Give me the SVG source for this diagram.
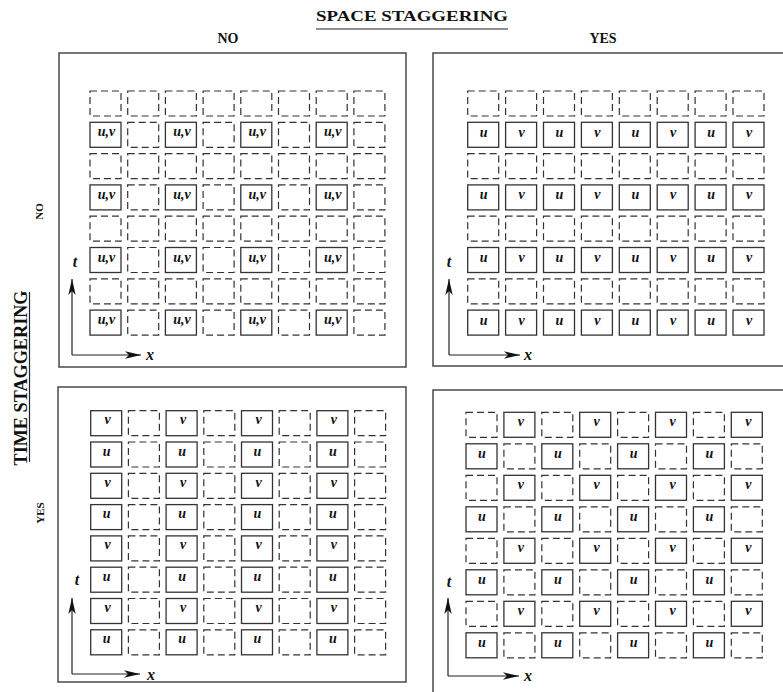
<svg xmlns="http://www.w3.org/2000/svg" xmlns:xlink="http://www.w3.org/1999/xlink" width="783" height="692" viewBox="0 0 783 692">
<style>
.frame{fill:none;stroke:#4a4a4a;stroke-width:1.5}
.s{fill:#fff;stroke:#333;stroke-width:1.3}
.d{fill:none;stroke:#333;stroke-width:1.2;stroke-dasharray:7 4}
.lb{font-family:"Liberation Serif","Times New Roman",serif;font-weight:bold;font-style:italic;font-size:14px;fill:#111;text-anchor:middle}
.ax{fill:none;stroke:#222;stroke-width:1.2}
.al{font-family:"Liberation Serif","Times New Roman",serif;font-weight:bold;font-style:italic;font-size:16px;fill:#111;text-anchor:middle}
.ti{font-family:"Liberation Serif","Times New Roman",serif;font-weight:bold;fill:#111;text-anchor:middle}
.ul{stroke:#222;stroke-width:1.2}
</style>
<defs>
<rect id="dc" class="d" width="31" height="25"/>
<marker id="ah" viewBox="0 0 16 8" markerWidth="16" markerHeight="8" refX="16" refY="4" orient="auto" markerUnits="userSpaceOnUse">
<path d="M0,0.3 L16,4 L0,7.7 L4,4 Z" fill="#111"/>
</marker>
</defs>

<g id="titles">
<text class="ti" x="412" y="21" font-size="15" textLength="192" lengthAdjust="spacingAndGlyphs">SPACE STAGGERING</text>
<line class="ul" x1="316" y1="29" x2="508" y2="29"/>
<text class="ti" x="228" y="42.5" font-size="14">NO</text>
<text class="ti" x="603" y="43" font-size="14">YES</text>
<text class="ti" transform="translate(27,378) rotate(-90)" font-size="19" textLength="175" lengthAdjust="spacingAndGlyphs">TIME STAGGERING</text>
<line class="ul" x1="29.5" y1="292" x2="29.5" y2="462"/>
<text class="ti" transform="translate(43,211.5) rotate(-90)" font-size="11">NO</text>
<text class="ti" transform="translate(44,513) rotate(-90)" font-size="11">YES</text>
</g>

<g id="frames">
<rect class="frame" x="59" y="53" width="347" height="314"/>
<rect class="frame" x="433" y="53" width="360" height="313"/>
<rect class="frame" x="58" y="387" width="348" height="295"/>
<rect class="frame" x="433" y="390" width="360" height="320"/>
</g>

<!-- Top-left: no space, no time staggering -->
<g id="panel-tl" transform="translate(90,91)">
<use href="#dc" x="0" y="0"/><use href="#dc" x="37.7" y="0"/><use href="#dc" x="75.4" y="0"/><use href="#dc" x="113.1" y="0"/><use href="#dc" x="150.8" y="0"/><use href="#dc" x="188.5" y="0"/><use href="#dc" x="226.2" y="0"/><use href="#dc" x="263.9" y="0"/>
<use href="#dc" x="0" y="62.6"/><use href="#dc" x="37.7" y="62.6"/><use href="#dc" x="75.4" y="62.6"/><use href="#dc" x="113.1" y="62.6"/><use href="#dc" x="150.8" y="62.6"/><use href="#dc" x="188.5" y="62.6"/><use href="#dc" x="226.2" y="62.6"/><use href="#dc" x="263.9" y="62.6"/>
<use href="#dc" x="0" y="125.2"/><use href="#dc" x="37.7" y="125.2"/><use href="#dc" x="75.4" y="125.2"/><use href="#dc" x="113.1" y="125.2"/><use href="#dc" x="150.8" y="125.2"/><use href="#dc" x="188.5" y="125.2"/><use href="#dc" x="226.2" y="125.2"/><use href="#dc" x="263.9" y="125.2"/>
<use href="#dc" x="0" y="187.8"/><use href="#dc" x="37.7" y="187.8"/><use href="#dc" x="75.4" y="187.8"/><use href="#dc" x="113.1" y="187.8"/><use href="#dc" x="150.8" y="187.8"/><use href="#dc" x="188.5" y="187.8"/><use href="#dc" x="226.2" y="187.8"/><use href="#dc" x="263.9" y="187.8"/>
<use href="#dc" x="37.7" y="31.3"/><use href="#dc" x="113.1" y="31.3"/><use href="#dc" x="188.5" y="31.3"/><use href="#dc" x="263.9" y="31.3"/>
<use href="#dc" x="37.7" y="93.9"/><use href="#dc" x="113.1" y="93.9"/><use href="#dc" x="188.5" y="93.9"/><use href="#dc" x="263.9" y="93.9"/>
<use href="#dc" x="37.7" y="156.5"/><use href="#dc" x="113.1" y="156.5"/><use href="#dc" x="188.5" y="156.5"/><use href="#dc" x="263.9" y="156.5"/>
<use href="#dc" x="37.7" y="219.1"/><use href="#dc" x="113.1" y="219.1"/><use href="#dc" x="188.5" y="219.1"/><use href="#dc" x="263.9" y="219.1"/>
<g id="tl-r1c0" transform="translate(0,31.3)"><rect class="s" width="31" height="25"/><text class="lb" x="16.5" y="14">u,v</text></g>
<g id="tl-r1c2" transform="translate(75.4,31.3)"><rect class="s" width="31" height="25"/><text class="lb" x="16.5" y="14">u,v</text></g>
<g id="tl-r1c4" transform="translate(150.8,31.3)"><rect class="s" width="31" height="25"/><text class="lb" x="16.5" y="14">u,v</text></g>
<g id="tl-r1c6" transform="translate(226.2,31.3)"><rect class="s" width="31" height="25"/><text class="lb" x="16.5" y="14">u,v</text></g>
<g id="tl-r3c0" transform="translate(0,93.9)"><rect class="s" width="31" height="25"/><text class="lb" x="16.5" y="14">u,v</text></g>
<g id="tl-r3c2" transform="translate(75.4,93.9)"><rect class="s" width="31" height="25"/><text class="lb" x="16.5" y="14">u,v</text></g>
<g id="tl-r3c4" transform="translate(150.8,93.9)"><rect class="s" width="31" height="25"/><text class="lb" x="16.5" y="14">u,v</text></g>
<g id="tl-r3c6" transform="translate(226.2,93.9)"><rect class="s" width="31" height="25"/><text class="lb" x="16.5" y="14">u,v</text></g>
<g id="tl-r5c0" transform="translate(0,156.5)"><rect class="s" width="31" height="25"/><text class="lb" x="16.5" y="14">u,v</text></g>
<g id="tl-r5c2" transform="translate(75.4,156.5)"><rect class="s" width="31" height="25"/><text class="lb" x="16.5" y="14">u,v</text></g>
<g id="tl-r5c4" transform="translate(150.8,156.5)"><rect class="s" width="31" height="25"/><text class="lb" x="16.5" y="14">u,v</text></g>
<g id="tl-r5c6" transform="translate(226.2,156.5)"><rect class="s" width="31" height="25"/><text class="lb" x="16.5" y="14">u,v</text></g>
<g id="tl-r7c0" transform="translate(0,219.1)"><rect class="s" width="31" height="25"/><text class="lb" x="16.5" y="14">u,v</text></g>
<g id="tl-r7c2" transform="translate(75.4,219.1)"><rect class="s" width="31" height="25"/><text class="lb" x="16.5" y="14">u,v</text></g>
<g id="tl-r7c4" transform="translate(150.8,219.1)"><rect class="s" width="31" height="25"/><text class="lb" x="16.5" y="14">u,v</text></g>
<g id="tl-r7c6" transform="translate(226.2,219.1)"><rect class="s" width="31" height="25"/><text class="lb" x="16.5" y="14">u,v</text></g>
</g>

<!-- Top-right: space staggering, no time staggering -->
<g id="panel-tr" transform="translate(467.7,91)">
<use href="#dc" x="0" y="0"/><use href="#dc" x="37.9" y="0"/><use href="#dc" x="75.8" y="0"/><use href="#dc" x="113.7" y="0"/><use href="#dc" x="151.6" y="0"/><use href="#dc" x="189.5" y="0"/><use href="#dc" x="227.4" y="0"/><use href="#dc" x="265.3" y="0"/>
<use href="#dc" x="0" y="62.6"/><use href="#dc" x="37.9" y="62.6"/><use href="#dc" x="75.8" y="62.6"/><use href="#dc" x="113.7" y="62.6"/><use href="#dc" x="151.6" y="62.6"/><use href="#dc" x="189.5" y="62.6"/><use href="#dc" x="227.4" y="62.6"/><use href="#dc" x="265.3" y="62.6"/>
<use href="#dc" x="0" y="125.2"/><use href="#dc" x="37.9" y="125.2"/><use href="#dc" x="75.8" y="125.2"/><use href="#dc" x="113.7" y="125.2"/><use href="#dc" x="151.6" y="125.2"/><use href="#dc" x="189.5" y="125.2"/><use href="#dc" x="227.4" y="125.2"/><use href="#dc" x="265.3" y="125.2"/>
<use href="#dc" x="0" y="187.8"/><use href="#dc" x="37.9" y="187.8"/><use href="#dc" x="75.8" y="187.8"/><use href="#dc" x="113.7" y="187.8"/><use href="#dc" x="151.6" y="187.8"/><use href="#dc" x="189.5" y="187.8"/><use href="#dc" x="227.4" y="187.8"/><use href="#dc" x="265.3" y="187.8"/>
<g id="tr-r1c0" transform="translate(0,31.3)"><rect class="s" width="31" height="25"/><text class="lb" x="16" y="14.5">u</text></g>
<g id="tr-r1c1" transform="translate(37.9,31.3)"><rect class="s" width="31" height="25"/><text class="lb" x="16" y="14.5">v</text></g>
<g id="tr-r1c2" transform="translate(75.8,31.3)"><rect class="s" width="31" height="25"/><text class="lb" x="16" y="14.5">u</text></g>
<g id="tr-r1c3" transform="translate(113.7,31.3)"><rect class="s" width="31" height="25"/><text class="lb" x="16" y="14.5">v</text></g>
<g id="tr-r1c4" transform="translate(151.6,31.3)"><rect class="s" width="31" height="25"/><text class="lb" x="16" y="14.5">u</text></g>
<g id="tr-r1c5" transform="translate(189.5,31.3)"><rect class="s" width="31" height="25"/><text class="lb" x="16" y="14.5">v</text></g>
<g id="tr-r1c6" transform="translate(227.4,31.3)"><rect class="s" width="31" height="25"/><text class="lb" x="16" y="14.5">u</text></g>
<g id="tr-r1c7" transform="translate(265.3,31.3)"><rect class="s" width="31" height="25"/><text class="lb" x="16" y="14.5">v</text></g>
<g id="tr-r3c0" transform="translate(0,93.9)"><rect class="s" width="31" height="25"/><text class="lb" x="16" y="14.5">u</text></g>
<g id="tr-r3c1" transform="translate(37.9,93.9)"><rect class="s" width="31" height="25"/><text class="lb" x="16" y="14.5">v</text></g>
<g id="tr-r3c2" transform="translate(75.8,93.9)"><rect class="s" width="31" height="25"/><text class="lb" x="16" y="14.5">u</text></g>
<g id="tr-r3c3" transform="translate(113.7,93.9)"><rect class="s" width="31" height="25"/><text class="lb" x="16" y="14.5">v</text></g>
<g id="tr-r3c4" transform="translate(151.6,93.9)"><rect class="s" width="31" height="25"/><text class="lb" x="16" y="14.5">u</text></g>
<g id="tr-r3c5" transform="translate(189.5,93.9)"><rect class="s" width="31" height="25"/><text class="lb" x="16" y="14.5">v</text></g>
<g id="tr-r3c6" transform="translate(227.4,93.9)"><rect class="s" width="31" height="25"/><text class="lb" x="16" y="14.5">u</text></g>
<g id="tr-r3c7" transform="translate(265.3,93.9)"><rect class="s" width="31" height="25"/><text class="lb" x="16" y="14.5">v</text></g>
<g id="tr-r5c0" transform="translate(0,156.5)"><rect class="s" width="31" height="25"/><text class="lb" x="16" y="14.5">u</text></g>
<g id="tr-r5c1" transform="translate(37.9,156.5)"><rect class="s" width="31" height="25"/><text class="lb" x="16" y="14.5">v</text></g>
<g id="tr-r5c2" transform="translate(75.8,156.5)"><rect class="s" width="31" height="25"/><text class="lb" x="16" y="14.5">u</text></g>
<g id="tr-r5c3" transform="translate(113.7,156.5)"><rect class="s" width="31" height="25"/><text class="lb" x="16" y="14.5">v</text></g>
<g id="tr-r5c4" transform="translate(151.6,156.5)"><rect class="s" width="31" height="25"/><text class="lb" x="16" y="14.5">u</text></g>
<g id="tr-r5c5" transform="translate(189.5,156.5)"><rect class="s" width="31" height="25"/><text class="lb" x="16" y="14.5">v</text></g>
<g id="tr-r5c6" transform="translate(227.4,156.5)"><rect class="s" width="31" height="25"/><text class="lb" x="16" y="14.5">u</text></g>
<g id="tr-r5c7" transform="translate(265.3,156.5)"><rect class="s" width="31" height="25"/><text class="lb" x="16" y="14.5">v</text></g>
<g id="tr-r7c0" transform="translate(0,219.1)"><rect class="s" width="31" height="25"/><text class="lb" x="16" y="14.5">u</text></g>
<g id="tr-r7c1" transform="translate(37.9,219.1)"><rect class="s" width="31" height="25"/><text class="lb" x="16" y="14.5">v</text></g>
<g id="tr-r7c2" transform="translate(75.8,219.1)"><rect class="s" width="31" height="25"/><text class="lb" x="16" y="14.5">u</text></g>
<g id="tr-r7c3" transform="translate(113.7,219.1)"><rect class="s" width="31" height="25"/><text class="lb" x="16" y="14.5">v</text></g>
<g id="tr-r7c4" transform="translate(151.6,219.1)"><rect class="s" width="31" height="25"/><text class="lb" x="16" y="14.5">u</text></g>
<g id="tr-r7c5" transform="translate(189.5,219.1)"><rect class="s" width="31" height="25"/><text class="lb" x="16" y="14.5">v</text></g>
<g id="tr-r7c6" transform="translate(227.4,219.1)"><rect class="s" width="31" height="25"/><text class="lb" x="16" y="14.5">u</text></g>
<g id="tr-r7c7" transform="translate(265.3,219.1)"><rect class="s" width="31" height="25"/><text class="lb" x="16" y="14.5">v</text></g>
</g>

<!-- Bottom-left: time staggering, no space staggering -->
<g id="panel-bl" transform="translate(90.7,410.7)">
<use href="#dc" x="37.7" y="0"/><use href="#dc" x="113.1" y="0"/><use href="#dc" x="188.5" y="0"/><use href="#dc" x="263.9" y="0"/>
<use href="#dc" x="37.7" y="31.3"/><use href="#dc" x="113.1" y="31.3"/><use href="#dc" x="188.5" y="31.3"/><use href="#dc" x="263.9" y="31.3"/>
<use href="#dc" x="37.7" y="62.6"/><use href="#dc" x="113.1" y="62.6"/><use href="#dc" x="188.5" y="62.6"/><use href="#dc" x="263.9" y="62.6"/>
<use href="#dc" x="37.7" y="93.9"/><use href="#dc" x="113.1" y="93.9"/><use href="#dc" x="188.5" y="93.9"/><use href="#dc" x="263.9" y="93.9"/>
<use href="#dc" x="37.7" y="125.2"/><use href="#dc" x="113.1" y="125.2"/><use href="#dc" x="188.5" y="125.2"/><use href="#dc" x="263.9" y="125.2"/>
<use href="#dc" x="37.7" y="156.5"/><use href="#dc" x="113.1" y="156.5"/><use href="#dc" x="188.5" y="156.5"/><use href="#dc" x="263.9" y="156.5"/>
<use href="#dc" x="37.7" y="187.8"/><use href="#dc" x="113.1" y="187.8"/><use href="#dc" x="188.5" y="187.8"/><use href="#dc" x="263.9" y="187.8"/>
<use href="#dc" x="37.7" y="219.1"/><use href="#dc" x="113.1" y="219.1"/><use href="#dc" x="188.5" y="219.1"/><use href="#dc" x="263.9" y="219.1"/>
<g id="bl-r0c0" transform="translate(0,0)"><rect class="s" width="31" height="25"/><text class="lb" x="17" y="13.5">v</text></g>
<g id="bl-r0c2" transform="translate(75.4,0)"><rect class="s" width="31" height="25"/><text class="lb" x="17" y="13.5">v</text></g>
<g id="bl-r0c4" transform="translate(150.8,0)"><rect class="s" width="31" height="25"/><text class="lb" x="17" y="13.5">v</text></g>
<g id="bl-r0c6" transform="translate(226.2,0)"><rect class="s" width="31" height="25"/><text class="lb" x="17" y="13.5">v</text></g>
<g id="bl-r1c0" transform="translate(0,31.3)"><rect class="s" width="31" height="25"/><text class="lb" x="16" y="13.5">u</text></g>
<g id="bl-r1c2" transform="translate(75.4,31.3)"><rect class="s" width="31" height="25"/><text class="lb" x="16" y="13.5">u</text></g>
<g id="bl-r1c4" transform="translate(150.8,31.3)"><rect class="s" width="31" height="25"/><text class="lb" x="16" y="13.5">u</text></g>
<g id="bl-r1c6" transform="translate(226.2,31.3)"><rect class="s" width="31" height="25"/><text class="lb" x="16" y="13.5">u</text></g>
<g id="bl-r2c0" transform="translate(0,62.6)"><rect class="s" width="31" height="25"/><text class="lb" x="17" y="13.5">v</text></g>
<g id="bl-r2c2" transform="translate(75.4,62.6)"><rect class="s" width="31" height="25"/><text class="lb" x="17" y="13.5">v</text></g>
<g id="bl-r2c4" transform="translate(150.8,62.6)"><rect class="s" width="31" height="25"/><text class="lb" x="17" y="13.5">v</text></g>
<g id="bl-r2c6" transform="translate(226.2,62.6)"><rect class="s" width="31" height="25"/><text class="lb" x="17" y="13.5">v</text></g>
<g id="bl-r3c0" transform="translate(0,93.9)"><rect class="s" width="31" height="25"/><text class="lb" x="16" y="13.5">u</text></g>
<g id="bl-r3c2" transform="translate(75.4,93.9)"><rect class="s" width="31" height="25"/><text class="lb" x="16" y="13.5">u</text></g>
<g id="bl-r3c4" transform="translate(150.8,93.9)"><rect class="s" width="31" height="25"/><text class="lb" x="16" y="13.5">u</text></g>
<g id="bl-r3c6" transform="translate(226.2,93.9)"><rect class="s" width="31" height="25"/><text class="lb" x="16" y="13.5">u</text></g>
<g id="bl-r4c0" transform="translate(0,125.2)"><rect class="s" width="31" height="25"/><text class="lb" x="17" y="13.5">v</text></g>
<g id="bl-r4c2" transform="translate(75.4,125.2)"><rect class="s" width="31" height="25"/><text class="lb" x="17" y="13.5">v</text></g>
<g id="bl-r4c4" transform="translate(150.8,125.2)"><rect class="s" width="31" height="25"/><text class="lb" x="17" y="13.5">v</text></g>
<g id="bl-r4c6" transform="translate(226.2,125.2)"><rect class="s" width="31" height="25"/><text class="lb" x="17" y="13.5">v</text></g>
<g id="bl-r5c0" transform="translate(0,156.5)"><rect class="s" width="31" height="25"/><text class="lb" x="16" y="13.5">u</text></g>
<g id="bl-r5c2" transform="translate(75.4,156.5)"><rect class="s" width="31" height="25"/><text class="lb" x="16" y="13.5">u</text></g>
<g id="bl-r5c4" transform="translate(150.8,156.5)"><rect class="s" width="31" height="25"/><text class="lb" x="16" y="13.5">u</text></g>
<g id="bl-r5c6" transform="translate(226.2,156.5)"><rect class="s" width="31" height="25"/><text class="lb" x="16" y="13.5">u</text></g>
<g id="bl-r6c0" transform="translate(0,187.8)"><rect class="s" width="31" height="25"/><text class="lb" x="17" y="13.5">v</text></g>
<g id="bl-r6c2" transform="translate(75.4,187.8)"><rect class="s" width="31" height="25"/><text class="lb" x="17" y="13.5">v</text></g>
<g id="bl-r6c4" transform="translate(150.8,187.8)"><rect class="s" width="31" height="25"/><text class="lb" x="17" y="13.5">v</text></g>
<g id="bl-r6c6" transform="translate(226.2,187.8)"><rect class="s" width="31" height="25"/><text class="lb" x="17" y="13.5">v</text></g>
<g id="bl-r7c0" transform="translate(0,219.1)"><rect class="s" width="31" height="25"/><text class="lb" x="16" y="13.5">u</text></g>
<g id="bl-r7c2" transform="translate(75.4,219.1)"><rect class="s" width="31" height="25"/><text class="lb" x="16" y="13.5">u</text></g>
<g id="bl-r7c4" transform="translate(150.8,219.1)"><rect class="s" width="31" height="25"/><text class="lb" x="16" y="13.5">u</text></g>
<g id="bl-r7c6" transform="translate(226.2,219.1)"><rect class="s" width="31" height="25"/><text class="lb" x="16" y="13.5">u</text></g>
</g>

<!-- Bottom-right: space and time staggering -->
<g id="panel-br" transform="translate(466,412.3)">
<use href="#dc" x="0" y="0"/><use href="#dc" x="75.8" y="0"/><use href="#dc" x="151.6" y="0"/><use href="#dc" x="227.4" y="0"/>
<use href="#dc" x="37.9" y="31.5"/><use href="#dc" x="113.7" y="31.5"/><use href="#dc" x="189.5" y="31.5"/><use href="#dc" x="265.3" y="31.5"/>
<use href="#dc" x="0" y="63"/><use href="#dc" x="75.8" y="63"/><use href="#dc" x="151.6" y="63"/><use href="#dc" x="227.4" y="63"/>
<use href="#dc" x="37.9" y="94.5"/><use href="#dc" x="113.7" y="94.5"/><use href="#dc" x="189.5" y="94.5"/><use href="#dc" x="265.3" y="94.5"/>
<use href="#dc" x="0" y="126"/><use href="#dc" x="75.8" y="126"/><use href="#dc" x="151.6" y="126"/><use href="#dc" x="227.4" y="126"/>
<use href="#dc" x="37.9" y="157.5"/><use href="#dc" x="113.7" y="157.5"/><use href="#dc" x="189.5" y="157.5"/><use href="#dc" x="265.3" y="157.5"/>
<use href="#dc" x="0" y="189"/><use href="#dc" x="75.8" y="189"/><use href="#dc" x="151.6" y="189"/><use href="#dc" x="227.4" y="189"/>
<use href="#dc" x="37.9" y="220.5"/><use href="#dc" x="113.7" y="220.5"/><use href="#dc" x="189.5" y="220.5"/><use href="#dc" x="265.3" y="220.5"/>
<g id="br-r0c1" transform="translate(37.9,0)"><rect class="s" width="31" height="25"/><text class="lb" x="17" y="14">v</text></g>
<g id="br-r0c3" transform="translate(113.7,0)"><rect class="s" width="31" height="25"/><text class="lb" x="17" y="14">v</text></g>
<g id="br-r0c5" transform="translate(189.5,0)"><rect class="s" width="31" height="25"/><text class="lb" x="17" y="14">v</text></g>
<g id="br-r0c7" transform="translate(265.3,0)"><rect class="s" width="31" height="25"/><text class="lb" x="17" y="14">v</text></g>
<g id="br-r1c0" transform="translate(0,31.5)"><rect class="s" width="31" height="25"/><text class="lb" x="16" y="14">u</text></g>
<g id="br-r1c2" transform="translate(75.8,31.5)"><rect class="s" width="31" height="25"/><text class="lb" x="16" y="14">u</text></g>
<g id="br-r1c4" transform="translate(151.6,31.5)"><rect class="s" width="31" height="25"/><text class="lb" x="16" y="14">u</text></g>
<g id="br-r1c6" transform="translate(227.4,31.5)"><rect class="s" width="31" height="25"/><text class="lb" x="16" y="14">u</text></g>
<g id="br-r2c1" transform="translate(37.9,63)"><rect class="s" width="31" height="25"/><text class="lb" x="17" y="14">v</text></g>
<g id="br-r2c3" transform="translate(113.7,63)"><rect class="s" width="31" height="25"/><text class="lb" x="17" y="14">v</text></g>
<g id="br-r2c5" transform="translate(189.5,63)"><rect class="s" width="31" height="25"/><text class="lb" x="17" y="14">v</text></g>
<g id="br-r2c7" transform="translate(265.3,63)"><rect class="s" width="31" height="25"/><text class="lb" x="17" y="14">v</text></g>
<g id="br-r3c0" transform="translate(0,94.5)"><rect class="s" width="31" height="25"/><text class="lb" x="16" y="14">u</text></g>
<g id="br-r3c2" transform="translate(75.8,94.5)"><rect class="s" width="31" height="25"/><text class="lb" x="16" y="14">u</text></g>
<g id="br-r3c4" transform="translate(151.6,94.5)"><rect class="s" width="31" height="25"/><text class="lb" x="16" y="14">u</text></g>
<g id="br-r3c6" transform="translate(227.4,94.5)"><rect class="s" width="31" height="25"/><text class="lb" x="16" y="14">u</text></g>
<g id="br-r4c1" transform="translate(37.9,126)"><rect class="s" width="31" height="25"/><text class="lb" x="17" y="14">v</text></g>
<g id="br-r4c3" transform="translate(113.7,126)"><rect class="s" width="31" height="25"/><text class="lb" x="17" y="14">v</text></g>
<g id="br-r4c5" transform="translate(189.5,126)"><rect class="s" width="31" height="25"/><text class="lb" x="17" y="14">v</text></g>
<g id="br-r4c7" transform="translate(265.3,126)"><rect class="s" width="31" height="25"/><text class="lb" x="17" y="14">v</text></g>
<g id="br-r5c0" transform="translate(0,157.5)"><rect class="s" width="31" height="25"/><text class="lb" x="16" y="14">u</text></g>
<g id="br-r5c2" transform="translate(75.8,157.5)"><rect class="s" width="31" height="25"/><text class="lb" x="16" y="14">u</text></g>
<g id="br-r5c4" transform="translate(151.6,157.5)"><rect class="s" width="31" height="25"/><text class="lb" x="16" y="14">u</text></g>
<g id="br-r5c6" transform="translate(227.4,157.5)"><rect class="s" width="31" height="25"/><text class="lb" x="16" y="14">u</text></g>
<g id="br-r6c1" transform="translate(37.9,189)"><rect class="s" width="31" height="25"/><text class="lb" x="17" y="14">v</text></g>
<g id="br-r6c3" transform="translate(113.7,189)"><rect class="s" width="31" height="25"/><text class="lb" x="17" y="14">v</text></g>
<g id="br-r6c5" transform="translate(189.5,189)"><rect class="s" width="31" height="25"/><text class="lb" x="17" y="14">v</text></g>
<g id="br-r6c7" transform="translate(265.3,189)"><rect class="s" width="31" height="25"/><text class="lb" x="17" y="14">v</text></g>
<g id="br-r7c0" transform="translate(0,220.5)"><rect class="s" width="31" height="25"/><text class="lb" x="16" y="14">u</text></g>
<g id="br-r7c2" transform="translate(75.8,220.5)"><rect class="s" width="31" height="25"/><text class="lb" x="16" y="14">u</text></g>
<g id="br-r7c4" transform="translate(151.6,220.5)"><rect class="s" width="31" height="25"/><text class="lb" x="16" y="14">u</text></g>
<g id="br-r7c6" transform="translate(227.4,220.5)"><rect class="s" width="31" height="25"/><text class="lb" x="16" y="14">u</text></g>
</g>

<g id="connectors">
<path class="ax" d="M72,355 V279" marker-end="url(#ah)"/>
<path class="ax" d="M72,355 H141" marker-end="url(#ah)"/>
<path class="ax" d="M449,355 V279" marker-end="url(#ah)"/>
<path class="ax" d="M449,355 H520" marker-end="url(#ah)"/>
<path class="ax" d="M72,674 V598" marker-end="url(#ah)"/>
<path class="ax" d="M72,674 H140" marker-end="url(#ah)"/>
<path class="ax" d="M448,676 V598" marker-end="url(#ah)"/>
<path class="ax" d="M448,676 H519" marker-end="url(#ah)"/>
</g>

<g id="axis-labels">
<text class="al" x="75" y="267">t</text>
<text class="al" x="150" y="360">x</text>
<text class="al" x="449" y="267">t</text>
<text class="al" x="528" y="360">x</text>
<text class="al" x="77" y="584.5">t</text>
<text class="al" x="151" y="679.5">x</text>
<text class="al" x="449" y="586.5">t</text>
<text class="al" x="528" y="681">x</text>
</g>
</svg>
